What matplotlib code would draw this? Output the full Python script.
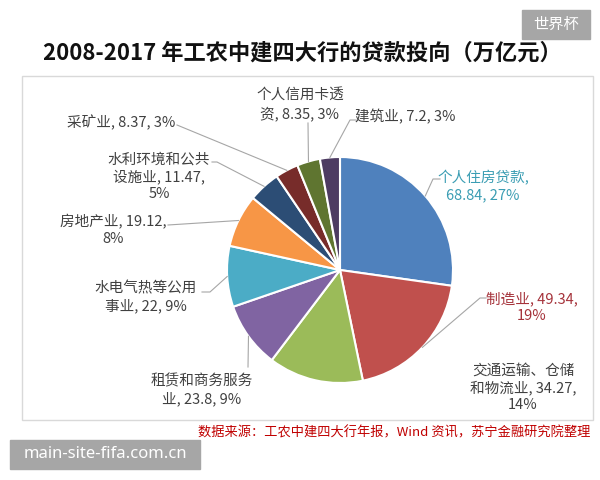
import numpy as np
import matplotlib
matplotlib.use('Agg')
import matplotlib.pyplot as plt
from matplotlib.patches import Rectangle

plt.rcParams['font.family'] = ['Noto Sans CJK SC', 'DejaVu Sans']

# data (万亿元)
names = ['个人住房贷款', '制造业', '交通运输、仓储和物流业', '租赁和商务服务业',
         '水电气热等公用事业', '房地产业', '水利环境和公共设施业', '采矿业',
         '个人信用卡透资', '建筑业']
values = [68.84, 49.34, 34.27, 23.8, 22, 19.12, 11.47, 8.37, 8.35, 7.2]
pcts = ['27%', '19%', '14%', '9%', '9%', '8%', '5%', '3%', '3%', '3%']
labels = ['个人住房贷款,\n68.84, 27%',
          '制造业, 49.34,\n19%',
          '交通运输、仓储\n和物流业, 34.27,\n14%',
          '租赁和商务服务\n业, 23.8, 9%',
          '水电气热等公用\n事业, 22, 9%',
          '房地产业, 19.12,\n8%',
          '水利环境和公共\n设施业, 11.47,\n5%',
          '采矿业, 8.37, 3%',
          '个人信用卡透\n资, 8.35, 3%',
          '建筑业, 7.2, 3%']
colors = ['#4F81BD', '#C0504D', '#9BBB59', '#8064A2', '#4BACC6',
          '#F79646', '#2C4D75', '#772C2A', '#5F7530', '#4D3B62']

W, H = 600, 480
fig = plt.figure(figsize=(6, 4.8), dpi=100)
ax = fig.add_axes([0, 0, 1, 1])

def Y(y):
    # pixel row -> data y
    return H - y

cx, cy, r = 340, Y(270), 113
wedges, _ = ax.pie(values, colors=colors, startangle=90, counterclock=False,
                   center=(cx, cy), radius=r,
                   wedgeprops=dict(edgecolor='white', linewidth=1.5))
ax.set_xlim(0, W)
ax.set_ylim(0, H)
ax.set_aspect('equal')
ax.axis('off')

# chart frame
ax.add_patch(Rectangle((22, Y(420)), 571, 344, fill=False,
                       edgecolor='#D9D9D9', linewidth=1))

# label layout: text centre (px) and leader elbow points (px)
text_pos = [(483, 186), (532, 307), (523, 388), (202, 390), (146, 297),
            (113, 230), (159, 177), (121, 123), (300, 105), (405, 117)]
elbows = [[(433, 179), (440, 179)],
          [(480, 298), (486, 298)],
          None,
          [(248, 367)],
          [(210, 292), (202, 292)],
          [(168, 225)],
          [(217, 162), (212, 162)],
          [(177, 125)],
          [(308, 123)],
          [(350, 120), (356, 120)]]
text_colors = ['#3A9DB3', '#A5323A'] + ['#404040'] * 8

for w, lab, (tx, ty), el, tc in zip(wedges, labels, text_pos, elbows, text_colors):
    ang = np.deg2rad((w.theta1 + w.theta2) / 2)
    px, py = cx + r * np.cos(ang), cy + r * np.sin(ang)
    if el is not None:
        xs = [px] + [p[0] for p in el]
        ys = [py] + [Y(p[1]) for p in el]
        ax.plot(xs, ys, color='#A6A6A6', linewidth=0.8)
    ax.text(tx, Y(ty), lab, ha='center', va='center', fontsize=10.5,
            color=tc, linespacing=1.25)

# title
ax.text(302, Y(53), '2008-2017 年工农中建四大行的贷款投向（万亿元）',
        ha='center', va='center', fontsize=16, fontweight='bold', color='#111111')

# source
ax.text(590, Y(433), '数据来源：工农中建四大行年报，Wind 资讯，苏宁金融研究院整理',
        ha='right', va='center', fontsize=9.5, color='#C00000', style='italic')

# watermarks
ax.add_patch(Rectangle((522, Y(39)), 68, 29, color='#A6A6A6'))
ax.text(556, Y(24.5), '世界杯', ha='center', va='center', fontsize=11, color='white')
ax.add_patch(Rectangle((10, Y(469)), 190, 29, color='#A6A6A6'))
ax.text(105, Y(454.5), 'main-site-fifa.com.cn', ha='center', va='center',
        fontsize=12, color='white', family=['Noto Sans', 'DejaVu Sans'])

fig.savefig('out.png', dpi=100)
